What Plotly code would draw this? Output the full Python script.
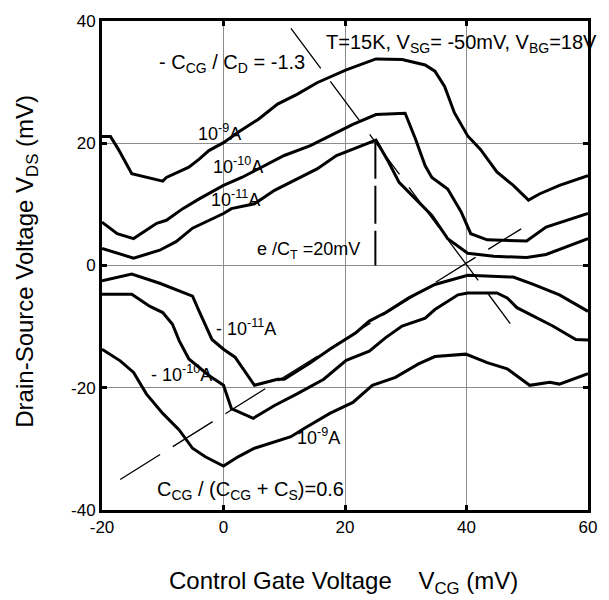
import plotly.graph_objects as go

# ---- data ----
pos_1e9_x = [-20, -18.6, -17.3, -15.1, -10, -9.4, -5.7, -4, -2.4, 0, 2.4, 5.7, 8.9, 12.1, 15.4, 20.2, 25.1, 29.4, 33.2, 34.8, 36.4, 38, 40.2, 42.3, 45, 47.7, 50.2, 52, 55.3, 60]
pos_1e9_y = [21.1, 21.1, 19.0, 15.0, 13.8, 14.4, 16.1, 17.4, 18.8, 20.1, 21.8, 23.9, 26.4, 28.0, 29.9, 32.0, 33.8, 33.7, 32.8, 31.8, 29.3, 25.0, 21.2, 19.0, 15.3, 13.1, 10.7, 11.7, 13.1, 14.7]

pos_1e10_x = [-20, -17.5, -14.8, -13.2, -11, -9.4, -6.7, -4, 0, 3, 6.7, 10, 14.3, 17.5, 21.3, 25.1, 29.9, 31.6, 33.2, 34.3, 36.9, 39.1, 40.7, 43.4, 49.9, 53.1, 56.4, 60]
pos_1e10_y = [7.1, 5.2, 4.4, 5.5, 6.9, 7.4, 9.3, 10.9, 13.1, 14.4, 16.3, 18.0, 19.6, 21.2, 23.1, 24.7, 24.9, 20.7, 16.3, 14.4, 12.5, 8.8, 5.2, 4.2, 4.0, 6.3, 7.4, 8.5]

pos_1e11_x = [-20, -17.5, -14.8, -10.5, -7.8, -5.1, -2.4, 0, 1.3, 5.1, 8.4, 12.1, 15.4, 18.6, 21.3, 25.1, 27.2, 28.9, 31.6, 34.3, 36.9, 40.2, 44.5, 49.9, 53.1, 56.4, 60]
pos_1e11_y = [2.8, 2.0, 1.2, 2.5, 3.9, 6.1, 7.4, 8.5, 9.3, 10.1, 12.3, 14.2, 15.8, 18.0, 19.0, 20.5, 16.9, 13.6, 10.9, 8.2, 4.4, 2.0, 1.5, 1.3, 1.8, 3.1, 4.4]

neg_1e11_x = [-20, -15.1, -10.5, -5.1, -4, -1.9, 0, 1.9, 5.1, 8.9, 10, 14.3, 17.5, 21.8, 24, 26.7, 30.5, 34.8, 40.2, 44.5, 47.7, 51, 55.3, 60]
neg_1e11_y = [-2.5, -1.4, -2.9, -5.0, -7.5, -12.1, -13.7, -15.0, -19.6, -18.6, -18.6, -15.9, -13.7, -11.0, -9.1, -7.7, -5.3, -3.1, -1.6, -1.8, -1.9, -3.1, -4.8, -7.5]

neg_1e10_x = [-20, -15.1, -12.1, -10, -8.4, -7.3, -5.7, -2.4, 0, 1.3, 4.9, 8.4, 12.1, 16.5, 20.2, 24, 26.7, 29.4, 33.2, 34.8, 38.6, 40.2, 45, 46.7, 48.3, 51, 54.2, 58, 60]
neg_1e10_y = [-4.7, -4.7, -6.7, -7.7, -9.6, -12.3, -15.3, -18.0, -19.6, -23.4, -25.0, -22.9, -21.0, -18.6, -15.5, -14.0, -11.8, -9.9, -8.6, -7.2, -4.8, -4.5, -4.5, -5.3, -6.9, -8.3, -9.9, -12.1, -12.2]

neg_1e9_x = [-20, -17, -14.8, -12.7, -10, -7.3, -5.1, -3, 0, 2.4, 5.1, 8.4, 11.1, 13.2, 17.5, 21.3, 24.5, 28.3, 32.1, 34.8, 39.9, 43.4, 46.7, 50.4, 53.7, 55.3, 60]
neg_1e9_y = [-13.7, -15.6, -17.5, -21.0, -24.2, -26.9, -29.9, -31.3, -32.8, -31.3, -29.9, -28.8, -28.0, -26.7, -24.2, -22.4, -19.6, -18.3, -16.1, -14.9, -14.5, -15.9, -16.9, -19.6, -19.1, -19.4, -17.7]

# guide lines
slope_neg_x = [11.1, 47.2]
slope_neg_y = [38.8, -9.5]
slope_pos_x = [-17, 49]
slope_pos_y = [-35, 6]
charge_x = [25, 25]
charge_y = [20.4, 0]

x_ticks = [-20, 0, 20, 40, 60]
y_ticks = [-40, -20, 0, 20, 40]

FONT = "Arial, Liberation Sans, sans-serif"

fig = go.Figure()
for xs, ys in [(pos_1e9_x, pos_1e9_y), (pos_1e10_x, pos_1e10_y), (pos_1e11_x, pos_1e11_y),
               (neg_1e11_x, neg_1e11_y), (neg_1e10_x, neg_1e10_y), (neg_1e9_x, neg_1e9_y)]:
    fig.add_trace(go.Scatter(x=xs, y=ys, mode="lines",
                             line=dict(color="black", width=3), showlegend=False, hoverinfo="skip"))

fig.add_trace(go.Scatter(x=slope_neg_x, y=slope_neg_y, mode="lines",
                         line=dict(color="black", width=1.3, dash="50px,16px"), showlegend=False))
fig.add_trace(go.Scatter(x=slope_pos_x, y=slope_pos_y, mode="lines",
                         line=dict(color="black", width=1.3, dash="47px,15px"), showlegend=False))
fig.add_trace(go.Scatter(x=charge_x, y=charge_y, mode="lines",
                         line=dict(color="black", width=2, dash="38px,7px"), showlegend=False))

ann = [
    ("- C<sub>CG</sub> / C<sub>D</sub> = -1.3", -11.0, 33.0, 20),
    ("T=15K, V<sub>SG</sub>= -50mV, V<sub>BG</sub>=18V", 16.5, 36.4, 20),
    ("10<sup>-9</sup>A", -4.5, 21.7, 18),
    ("10<sup>-10</sup>A", -2.1, 16.4, 18),
    ("10<sup>-11</sup>A", -2.4, 11.0, 18),
    ("e /C<sub>T</sub> =20mV", 5.2, 2.5, 18),
    ("- 10<sup>-11</sup>A", -1.6, -10.1, 18),
    ("- 10<sup>-10</sup>A", -12.2, -17.6, 18),
    ("10<sup>-9</sup>A", 11.8, -27.9, 18),
    ("C<sub>CG</sub> / (C<sub>CG</sub> + C<sub>S</sub>)=0.6", -11.3, -36.8, 20),
]
for text, x, y, size in ann:
    fig.add_annotation(text=text, x=x, y=y, xref="x", yref="y", xanchor="left", yanchor="middle",
                       showarrow=False, font=dict(family=FONT, size=size, color="black"))

# axis titles
fig.add_annotation(text="Control Gate Voltage\u00a0\u00a0\u00a0\u00a0V<sub>CG</sub> (mV)",
                   x=(347 - 101.5) / 493.5, y=-(583 - 510) / 493, xref="paper", yref="paper",
                   xanchor="center", yanchor="middle", showarrow=False,
                   font=dict(family=FONT, size=24, color="black"))
fig.add_annotation(text="Drain-Source Voltage V<sub>DS</sub> (mV)",
                   x=-(101.5 - 24) / 493.5, y=(510 - 259) / 493, xref="paper", yref="paper",
                   xanchor="center", yanchor="middle", textangle=-90, showarrow=False,
                   font=dict(family=FONT, size=24, color="black"))

axis_common = dict(showline=True, linecolor="black", linewidth=3, mirror="allticks",
                   ticks="inside", ticklen=5, tickwidth=3, tickcolor="black",
                   showgrid=True, gridcolor="#8c8c8c", gridwidth=1, zeroline=False,
                   tickfont=dict(family=FONT, size=17, color="black"))
fig.update_xaxes(range=[-20, 60], tickvals=x_ticks, ticktext=[str(v) for v in x_ticks], **axis_common)
fig.update_yaxes(range=[-40, 40], tickvals=y_ticks, ticktext=[str(v) for v in y_ticks], **axis_common)

fig.update_layout(width=609, height=600, margin=dict(l=101.5, r=14, t=17, b=90),
                  paper_bgcolor="white", plot_bgcolor="white", showlegend=False,
                  font=dict(family=FONT, color="black"))
fig.write_html("out.html", config={"displayModeBar": False},
               post_script="document.body.style.margin='0';document.body.style.overflow='hidden';")
